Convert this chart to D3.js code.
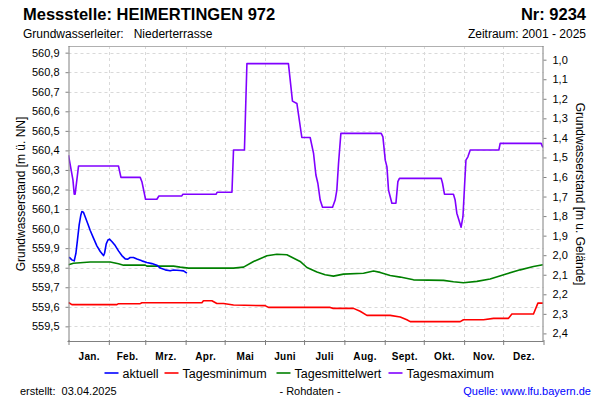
<!DOCTYPE html>
<html><head><meta charset="utf-8">
<script src="https://cdn.jsdelivr.net/npm/d3@7"></script>
<style>
body{margin:0;background:#fff}
svg{display:block}
text{font-family:"Liberation Sans",Arial,sans-serif;fill:#000}
</style>
</head><body>
<svg id="chart" width="600" height="400"></svg>
<script>
// ---------- data ----------
const monthLabels = ["Jan.","Feb.","Mrz.","Apr.","Mai","Juni","Juli","Aug.","Sept.","Okt.","Nov.","Dez."];
const monthStarts = [0,31,59,90,120,151,181,212,243,273,304,334,365];
const levelTicks = [559.5,559.6,559.7,559.8,559.9,560.0,560.1,560.2,560.3,560.4,560.5,560.6,560.7,560.8,560.9];
const depthTicks = [1.0,1.1,1.2,1.3,1.4,1.5,1.6,1.7,1.8,1.9,2.0,2.1,2.2,2.3,2.4];
const groundLevel = 561.864;
const levelDomain = [559.420, 560.934];

// [day of year, m ü. NN]
const aktuell = [[0.5,559.854],[2.6,559.840],[4.4,559.835],[5.7,559.874],[6.9,559.942],[8.2,560.019],[9.5,560.070],[10.3,560.087],[11.5,560.084],[12.8,560.061],[14.9,560.024],[16.7,559.990],[19.2,559.951],[21.8,559.912],[24.4,559.883],[26.9,559.862],[27.7,559.874],[29,559.922],[30.3,559.942],[31.5,559.946],[33.3,559.934],[35.9,559.913],[38.4,559.886],[41,559.862],[43.6,559.845],[45.6,559.844],[47.4,559.852],[49.9,559.852],[52.6,559.844],[56.4,559.835],[60.2,559.827],[64.1,559.821],[67.9,559.813],[70.5,559.798],[74.3,559.789],[78.1,559.784],[80.7,559.788],[85.8,559.786],[88.4,559.784],[91,559.772]];
const tagesMinimum = [[0,559.622],[2.6,559.611],[37.2,559.611],[38.4,559.616],[55.1,559.616],[56.4,559.621],[102.5,559.621],[103.7,559.631],[110.2,559.631],[114,559.617],[119.1,559.617],[126.8,559.609],[151.1,559.606],[153.7,559.597],[201.1,559.597],[203.4,559.592],[219,559.592],[224.1,559.577],[229.3,559.556],[247.2,559.556],[254.9,559.548],[260,559.534],[262.6,559.524],[301,559.524],[303.5,559.534],[318.9,559.534],[326.6,559.541],[338.1,559.541],[340.7,559.563],[357.3,559.563],[360.7,559.619],[364.5,559.619]];
const tagesMittel = [[0,559.815],[3.8,559.823],[16.7,559.829],[32,559.829],[38.4,559.820],[42.3,559.813],[58.9,559.813],[60.2,559.808],[80.7,559.808],[85.8,559.803],[92.2,559.798],[126.8,559.798],[134.5,559.803],[142.2,559.832],[152.5,559.861],[160.1,559.869],[167.8,559.866],[178,559.832],[183.2,559.801],[190.9,559.778],[197.2,559.764],[203.6,559.757],[211.3,559.767],[226.7,559.772],[234.4,559.783],[239.5,559.776],[247.2,559.760],[254.9,559.752],[265.1,559.738],[288.2,559.735],[295.8,559.728],[303.5,559.723],[313.8,559.730],[324,559.742],[336.9,559.769],[347.1,559.789],[357.3,559.806],[364.5,559.815]];
const tagesMaximum = [[0,560.376],[3.4,560.249],[4.4,560.176],[5.1,560.176],[7.7,560.320],[38.4,560.320],[40.3,560.262],[55.1,560.262],[56.4,560.240],[59.2,560.150],[67.9,560.150],[69.5,560.167],[87.1,560.167],[87.9,560.176],[113.5,560.176],[114.2,560.186],[125.6,560.186],[126.8,560.402],[135.2,560.402],[137.1,560.844],[169,560.844],[172.1,560.652],[175.5,560.640],[179.3,560.466],[185.7,560.466],[188.3,560.385],[190.1,560.274],[191.6,560.232],[193.4,560.146],[195.2,560.109],[202.9,560.109],[204.9,560.146],[206.2,560.197],[207.5,560.334],[209.3,560.487],[240.3,560.487],[241.6,560.469],[243.4,560.350],[244.7,560.316],[245.9,560.197],[248.5,560.130],[251.6,560.130],[253.1,560.240],[254.3,560.257],[286.4,560.257],[287.4,560.232],[288.9,560.176],[295.8,560.176],[297.1,560.146],[298.4,560.079],[300,560.044],[301.7,560.007],[303.1,560.061],[304.3,560.214],[305.4,560.350],[306.9,560.367],[308.7,560.402],[330.7,560.402],[331.7,560.436],[363.2,560.436],[364.5,560.415]];

const seriesNames = ["aktuell","Tagesminimum","Tagesmittelwert","Tagesmaximum"];
const seriesColors = ["#0000ff","#ff0000","#008000","#8000ff"];
const seriesData = [aktuell, tagesMinimum, tagesMittel, tagesMaximum];

// ---------- layout ----------
const L = 68.5, R = 543.5, T = 46, B = 342;
const svg = d3.select("#chart");
const x = d3.scaleLinear().domain([0,365]).range([L,R]);
const y = d3.scaleLinear().domain(levelDomain).range([B,T]);
const yDepth = d3.scaleLinear().domain([groundLevel-levelDomain[0], groundLevel-levelDomain[1]]).range([B,T]);
const fmt = d => d3.format(".1f")(d).replace(".", ",");

// grid
const grid = svg.append("g").attr("stroke","#d9d9d9").attr("stroke-dasharray","3,3").attr("stroke-width",1);
grid.selectAll("line.h").data(levelTicks).join("line")
  .attr("x1",L).attr("x2",R).attr("y1",d=>Math.round(y(d))+0.5).attr("y2",d=>Math.round(y(d))+0.5);
grid.selectAll("line.v").data(monthStarts.slice(1,-1)).join("line")
  .attr("x1",d=>Math.round(x(d))+0.5).attr("x2",d=>Math.round(x(d))+0.5).attr("y1",T).attr("y2",B);

// frame
svg.append("line").attr("x1",L).attr("x2",R).attr("y1",T+0.5).attr("y2",T+0.5).attr("stroke","#b0b0b0");

// lines
svg.append("clipPath").attr("id","clip").append("rect").attr("x",L).attr("y",T).attr("width",R-L).attr("height",B-T);
const line = d3.line().x(d=>x(d[0])).y(d=>y(d[1]));
const order = [1,2,3,0];
const lg = svg.append("g").attr("clip-path","url(#clip)");
order.forEach(i=>{
  lg.append("path").datum(seriesData[i]).attr("d",line)
    .attr("fill","none").attr("stroke",seriesColors[i]).attr("stroke-width",1.6).attr("stroke-linejoin","round");
});

// axes
function styleAxis(g){
  g.select(".domain").remove();
  g.selectAll(".tick line").attr("stroke","#808080");
  g.selectAll(".tick text").attr("font-size","11px").attr("fill","#000")
   .attr("font-family","'Liberation Sans',Arial,sans-serif");
}
svg.append("g").attr("transform",`translate(${L},0)`)
  .call(d3.axisLeft(y).tickValues(levelTicks).tickSize(3).tickSizeOuter(0).tickPadding(6).tickFormat(fmt))
  .call(styleAxis);
svg.append("g").attr("transform",`translate(${R},0)`)
  .call(d3.axisRight(yDepth).tickValues(depthTicks).tickSize(3).tickSizeOuter(0).tickPadding(6).tickFormat(fmt))
  .call(styleAxis);
svg.append("g").attr("transform",`translate(0,${B-2})`)
  .call(d3.axisBottom(x).tickValues(monthStarts).tickSize(5).tickSizeOuter(0).tickFormat(""))
  .call(styleAxis);
const monthMid = monthStarts.slice(0,-1).map((d,i)=>(d+monthStarts[i+1])/2);
svg.append("g").attr("transform",`translate(0,${B})`)
  .call(d3.axisBottom(x).tickValues(monthMid).tickSize(0).tickPadding(11).tickFormat((d,i)=>monthLabels[i]))
  .call(styleAxis)
  .selectAll("text").attr("font-size","10px").attr("font-weight","bold").attr("letter-spacing","0.3px");

svg.append("line").attr("x1",L+0.5).attr("x2",L+0.5).attr("y1",T).attr("y2",B).attr("stroke","#808080");
svg.append("line").attr("x1",R-0.5).attr("x2",R-0.5).attr("y1",T).attr("y2",B).attr("stroke","#808080");
svg.append("line").attr("x1",L-1).attr("x2",R).attr("y1",B-0.5).attr("y2",B-0.5).attr("stroke","#808080");

// axis titles
svg.append("text").attr("transform",`translate(25,${(T+B)/2}) rotate(-90)`)
  .attr("text-anchor","middle").attr("font-size","12px").text("Grundwasserstand [m ü. NN]");
svg.append("text").attr("transform",`translate(576,${(T+B)/2}) rotate(90)`)
  .attr("text-anchor","middle").attr("font-size","12px").text("Grundwasserstand [m u. Gelände]");

// header
svg.append("text").attr("x",23).attr("y",20).attr("font-size","16.5px").attr("font-weight","bold").text("Messstelle: HEIMERTINGEN 972");
svg.append("text").attr("x",586).attr("y",20).attr("text-anchor","end").attr("font-size","16.5px").attr("font-weight","bold").text("Nr: 9234");
svg.append("text").attr("x",23).attr("y",38).attr("font-size","12px").attr("xml:space","preserve").text("Grundwasserleiter:   Niederterrasse");
svg.append("text").attr("x",586).attr("y",38).attr("text-anchor","end").attr("font-size","12px").text("Zeitraum: 2001 - 2025");

// legend
const legendX = [104.5,164.5,276.5,388.5];
const leg = svg.append("g");
seriesNames.forEach((n,i)=>{
  leg.append("line").attr("x1",legendX[i]).attr("x2",legendX[i]+14).attr("y1",373).attr("y2",373)
    .attr("stroke",seriesColors[i]).attr("stroke-width",1.6);
  leg.append("text").attr("x",legendX[i]+18).attr("y",377.5).attr("font-size","12.5px").text(n);
});

// footer
svg.append("text").attr("x",20).attr("y",395).attr("font-size","11px").attr("xml:space","preserve").text("erstellt:  03.04.2025");
svg.append("text").attr("x",310).attr("y",395).attr("text-anchor","middle").attr("font-size","11px").text("- Rohdaten -");
svg.append("text").attr("x",591).attr("y",395).attr("text-anchor","end").attr("font-size","11px").style("fill","#0000ff").text("Quelle: www.lfu.bayern.de");
</script>
</body></html>
